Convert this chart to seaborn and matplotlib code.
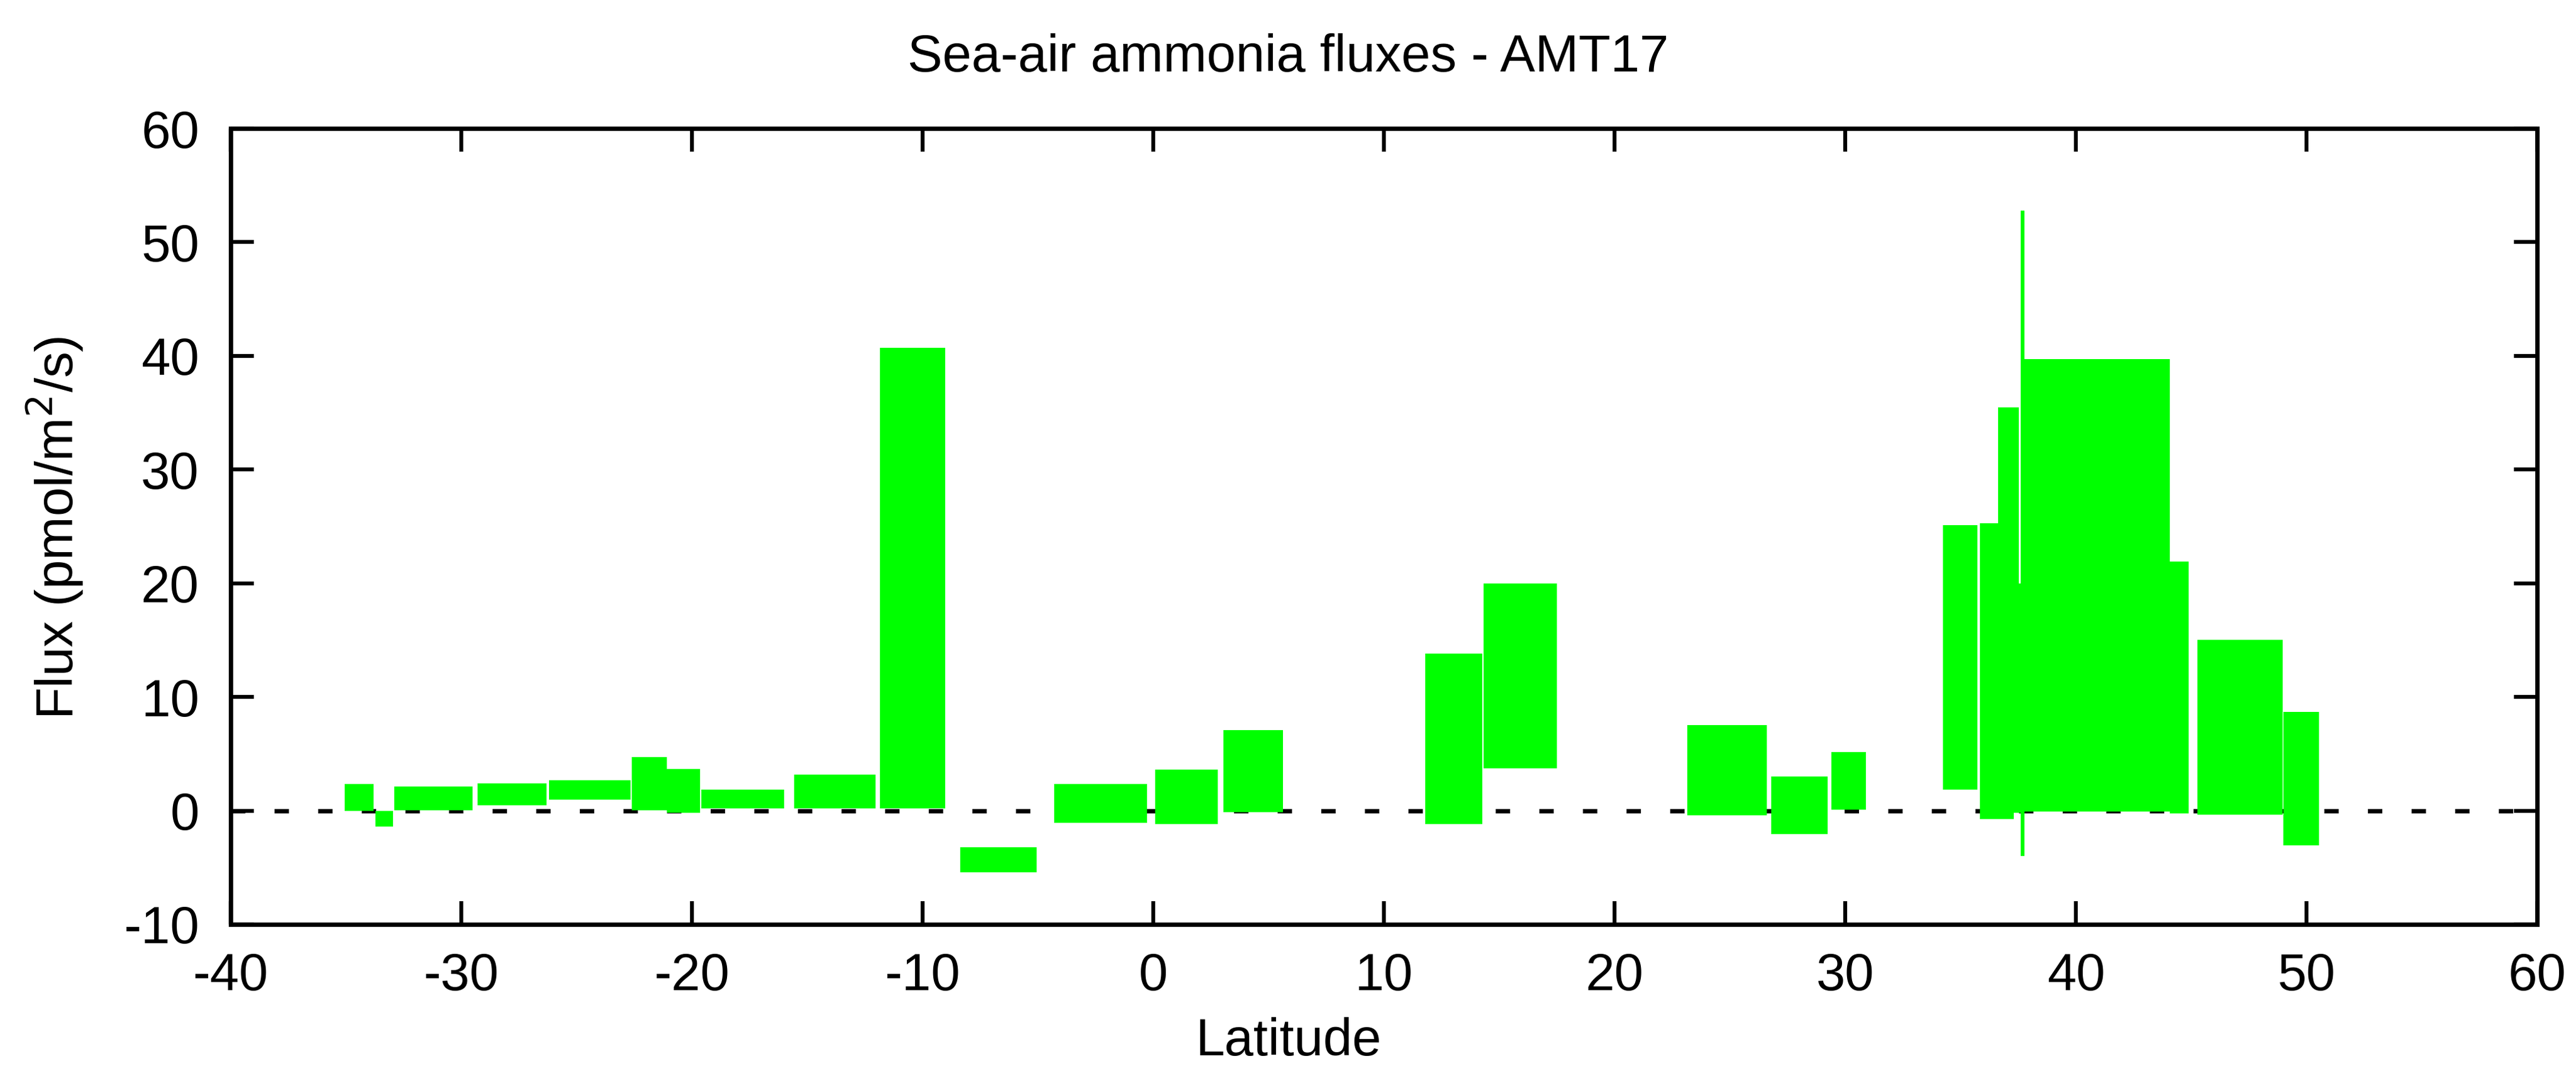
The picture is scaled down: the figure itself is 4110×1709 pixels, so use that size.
import numpy as np
import matplotlib
matplotlib.use("Agg")
import matplotlib.pyplot as plt
import seaborn as sns

# box edges (latitude span, flux low/high)
lat_start = [-35.05, -33.73, -32.90, -29.28, -26.20, -22.60, -21.08, -19.59,
             -15.57, -11.86, -8.38, -4.29, 0.07, 3.04, 11.78, 14.31,
             23.15, 26.79, 29.39, 34.23, 35.85, 36.64, 37.32, 37.62,
             37.77, 44.08, 45.26, 48.99]
lat_end = [-33.80, -32.95, -29.52, -26.31, -22.67, -21.08, -19.65, -16.00,
           -12.03, -9.01, -5.06, -0.28, 2.81, 5.63, 14.27, 17.50,
           26.60, 29.25, 30.90, 35.74, 37.32, 37.52, 37.62, 37.77,
           44.08, 44.88, 48.97, 50.55]
flux_low = [0.0, -1.4, 0.05, 0.45, 0.97, 0.04, -0.21, 0.17,
            0.18, 0.18, -5.4, -1.07, -1.17, -0.13, -1.2, 3.72,
            -0.4, -2.05, 0.06, 1.87, -0.75, -0.2, -0.2, -4.0,
            -0.1, -0.25, -0.33, -3.07]
flux_high = [2.35, 0.0, 2.15, 2.42, 2.68, 4.72, 3.67, 1.83,
             3.15, 40.7, -3.2, 2.37, 3.63, 7.1, 13.8, 20.0,
             7.54, 3.02, 5.15, 25.1, 25.3, 35.5, 20.0, 52.8,
             39.7, 21.9, 15.0, 8.7]

x_ticks = [-40, -30, -20, -10, 0, 10, 20, 30, 40, 50, 60]
y_ticks = [-10, 0, 10, 20, 30, 40, 50, 60]

sns.set_theme(style="ticks")
plt.rcParams['font.family'] = ['Liberation Sans', 'DejaVu Sans']
plt.rcParams['lines.scale_dashes'] = False
for key in ['text.color', 'axes.labelcolor', 'xtick.color', 'ytick.color',
            'xtick.labelcolor', 'ytick.labelcolor']:
    plt.rcParams[key] = 'black'

W, H = 4110, 1709
fig = plt.figure(figsize=(W / 100, H / 100), dpi=100)
ax = fig.add_axes([368 / W, 1 - 1475 / H, (4048 - 368) / W, (1475 - 205) / H])

start = np.array(lat_start)
width = np.array(lat_end) - start
low = np.array(flux_low)
height = np.array(flux_high) - low

zero = ax.axhline(0, color='black', lw=5.0, zorder=1)
zero.set_dashes((16.5, 33.6))
zero.set_dash_capstyle('butt')
ax.bar(start, height, width=width, bottom=low, align='edge',
       color='#00ff00', edgecolor='none', linewidth=0, zorder=2)

ax.set_xlim(-40, 60)
ax.set_ylim(-10, 60)
ax.set_xticks(x_ticks)
ax.set_yticks(y_ticks)
ax.set_xticklabels([str(t) for t in x_ticks])
ax.set_yticklabels([str(t) for t in y_ticks])

for side in ['top', 'bottom', 'left', 'right']:
    ax.spines[side].set_visible(True)
    ax.spines[side].set_linewidth(5.0)
    ax.spines[side].set_color('black')
    ax.spines[side].set_zorder(5)

ax.tick_params(axis='both', which='major', direction='in', length=26.5,
               width=4.5, color='black', labelcolor='black', labelsize=60,
               top=True, right=True)
ax.tick_params(axis='x', pad=32)
ax.tick_params(axis='y', pad=36)
ax.grid(False)

fig.text(0.5, 1 - 92 / H, 'Sea-air ammonia fluxes - AMT17', ha='center',
         va='center', fontsize=60, color='black')
fig.text(0.5, 1 - 1662 / H, 'Latitude', ha='center', va='center',
         fontsize=60, color='black')
fig.text(88 / W, 1 - 842 / H, 'Flux (pmol/m$^2$/s)', ha='center', va='center',
         rotation=90, fontsize=60, color='black')

fig.savefig('out.png', dpi=100, facecolor='white')
